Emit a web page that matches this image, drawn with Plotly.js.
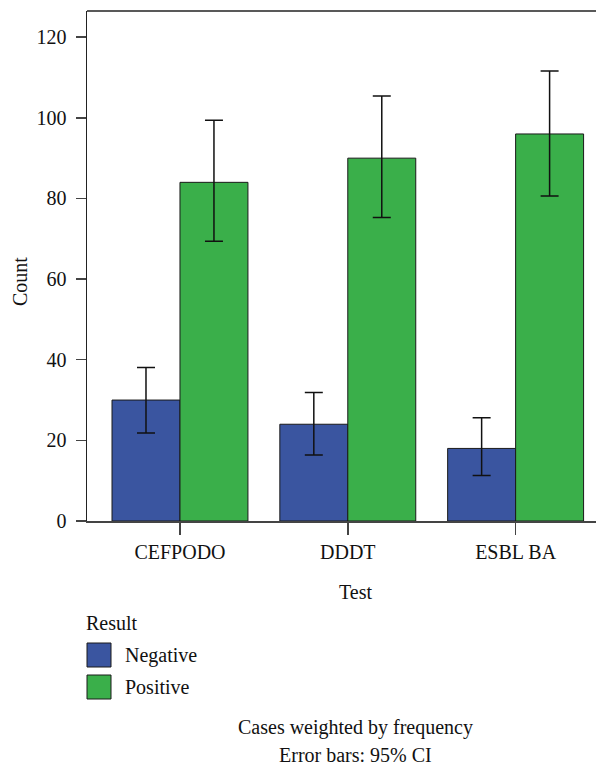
<!DOCTYPE html>
<html>
<head>
<meta charset="utf-8">
<script src="https://cdn.plot.ly/plotly-3.0.1.min.js"></script>
<style>html,body{margin:0;padding:0;background:#fff;}#chart{width:596px;height:768px;}</style>
</head>
<body>
<div id="chart"></div>
<script>
const categories = ["CEFPODO", "DDDT", "ESBL BA"];
const seriesNames = ["Negative", "Positive"];
const negativeCounts = [30, 24, 18];
const negativeUpper = [38.1, 31.9, 25.6];
const negativeLower = [21.8, 16.4, 11.3];
const positiveCounts = [84, 90, 96];
const positiveUpper = [99.4, 105.4, 111.6];
const positiveLower = [69.4, 75.3, 80.6];
const yTicks = [0, 20, 40, 60, 80, 100, 120];
const legendTitle = "Result";
const xTitle = "Test";
const yTitle = "Count";
const footnotes = ["Cases weighted by frequency", "Error bars: 95% CI"];

const colors = ["#3a55a0", "#3aaf4a"];
const font = "Liberation Serif, Times New Roman, serif";
const fs = 20;

function errs(vals, up, lo) {
  return {
    type: "data", symmetric: false,
    array: up.map((u, i) => u - vals[i]),
    arrayminus: lo.map((l, i) => vals[i] - l),
    color: "#111", thickness: 1.5, width: 9
  };
}

const traces = [
  {type: "bar", name: seriesNames[0], x: categories, y: negativeCounts,
   marker: {color: colors[0], line: {color: "#1a1a1a", width: 1}},
   error_y: errs(negativeCounts, negativeUpper, negativeLower), showlegend: false},
  {type: "bar", name: seriesNames[1], x: categories, y: positiveCounts,
   marker: {color: colors[1], line: {color: "#1a1a1a", width: 1}},
   error_y: errs(positiveCounts, positiveUpper, positiveLower), showlegend: false}
];

const plotL = 87, plotW = 509, plotT = 11, plotH = 510;
function px(x) { return (x - plotL) / plotW; }
function py(y) { return 1 - (y - plotT) / plotH; }

const txt = {family: font, size: fs, color: "#111"};
const shapes = [
  {type: "line", xref: "paper", yref: "paper", x0: 0, x1: 1, y0: 1, y1: 1, line: {color: "#222", width: 1.5}}
];
const annotations = [
  {xref: "paper", yref: "paper", x: px(355), y: py(592), xanchor: "center", yanchor: "middle",
   text: xTitle, showarrow: false, font: txt},
  {xref: "paper", yref: "paper", x: px(20), y: py(282), xanchor: "center", yanchor: "middle",
   text: yTitle, textangle: -90, showarrow: false, font: txt},
  {xref: "paper", yref: "paper", x: px(84), y: py(623), xanchor: "left", yanchor: "middle",
   text: legendTitle, showarrow: false, font: txt},
  {xref: "paper", yref: "paper", x: px(355), y: py(727), xanchor: "center", yanchor: "middle",
   text: footnotes[0], showarrow: false, font: txt},
  {xref: "paper", yref: "paper", x: px(355), y: py(755), xanchor: "center", yanchor: "middle",
   text: footnotes[1], showarrow: false, font: txt}
];
const swatchTops = [643, 675];
seriesNames.forEach((n, i) => {
  shapes.push({type: "rect", xref: "paper", yref: "paper",
    x0: px(87), x1: px(111), y0: py(swatchTops[i] + 24), y1: py(swatchTops[i]),
    fillcolor: colors[i], line: {color: "#1a1a1a", width: 1}});
  annotations.push({xref: "paper", yref: "paper", x: px(123), y: py(swatchTops[i] + 12),
    xanchor: "left", yanchor: "middle", text: n, showarrow: false, font: txt});
});

const layout = {
  width: 596, height: 768,
  margin: {l: plotL, r: 0, t: plotT, b: 768 - plotT - plotH, pad: 0},
  paper_bgcolor: "#fff", plot_bgcolor: "#fff",
  font: txt,
  barmode: "group", bargap: 0.19, bargroupgap: 0,
  xaxis: {
    range: [-0.554, 2.479], showline: true, linecolor: "#444", linewidth: 1.5,
    ticks: "outside", ticklen: 12, tickcolor: "#444", tickwidth: 1.5,
    showgrid: false, zeroline: false, ticklabelstandoff: 0,
    tickfont: txt, automargin: false
  },
  yaxis: {
    range: [0, 126.5], showline: true, linecolor: "#222", linewidth: 1.5,
    ticks: "outside", ticklen: 10, tickcolor: "#444", tickwidth: 1.5,
    tickvals: yTicks, showgrid: false, zeroline: false, ticklabelstandoff: 5,
    tickfont: txt, automargin: false
  },
  shapes: shapes,
  annotations: annotations,
  showlegend: false
};

Plotly.newPlot("chart", traces, layout, {displayModeBar: false, staticPlot: true});
</script>
</body>
</html>
